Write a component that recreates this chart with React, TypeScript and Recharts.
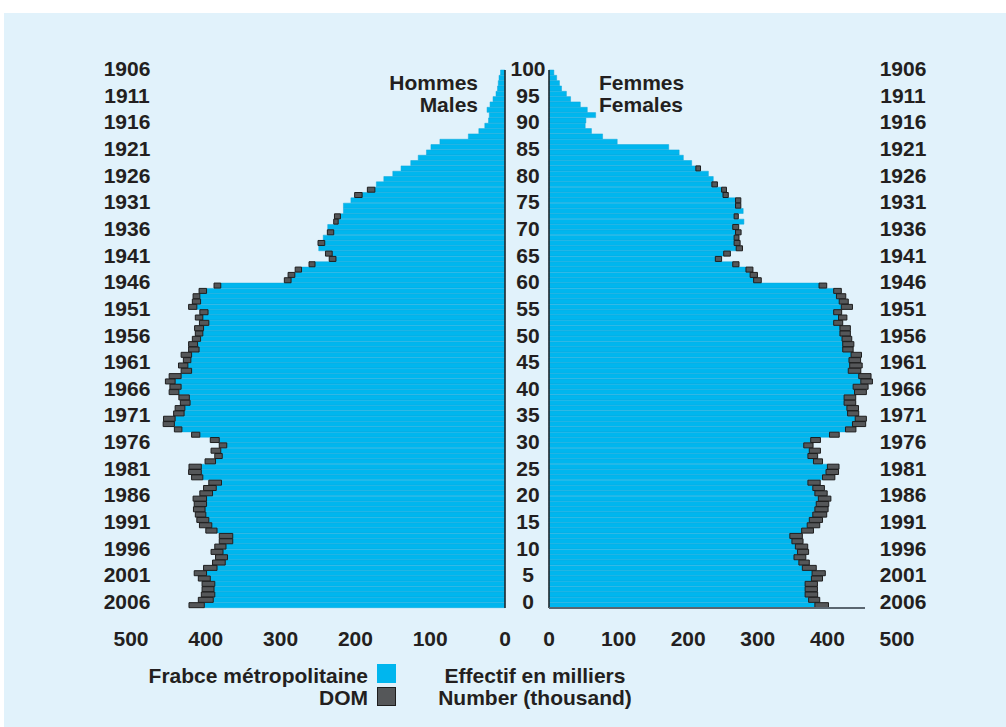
import React from "react";
import { BarChart, Bar, XAxis, YAxis } from "recharts";

// population of France on 1 Jan 2006, thousands, index = age 0..100
const ages = Array.from({ length: 101 }, (_, i) => i);

const maleMetro = [
  402, 390, 388, 389, 388, 394, 399, 385, 374, 371,
  377, 373, 364, 364, 385, 392, 396, 400, 401, 399,
  399, 391, 386, 379, 404, 406, 406, 387, 378, 380,
  372, 382, 408, 432, 442, 441, 429, 428, 421, 422,
  436, 433, 441, 433, 419, 424, 420, 419, 409, 411,
  407, 404, 403, 396, 404, 397, 412, 407, 408, 399,
  380, 286, 281, 272, 254, 226, 231, 249, 241, 243,
  229, 237, 223, 220, 216, 216, 206, 191, 174, 172,
  162, 150, 139, 126, 116, 105, 99, 87, 49, 35,
  27, 22, 21, 24, 20, 16, 12, 10, 9, 8,
  6,
];

const maleDom = [
  20.5, 20, 18, 16, 17, 16, 16.5, 18, 17, 16,
  16, 15, 18, 18, 15, 16.5, 16, 14, 15.5, 16.5,
  18, 17, 17, 17, 15, 17, 16.5, 14, 10, 13,
  10, 12, 11, 10, 15, 15.5, 14, 13, 13, 14,
  13, 15, 13, 16, 14, 12.5, 10, 14, 14, 12,
  11, 10, 12, 12.5, 10, 11, 11, 11, 9, 10,
  9, 9, 9, 8.5, 8, 9, 9, 0, 9, 0,
  8.5, 0, 6, 8, 0, 0, 0, 10, 10, 0,
  0, 0, 0, 0, 0, 0, 0, 0, 0, 0,
  0, 0, 0, 0, 0, 0, 0, 0, 0, 0,
  0,
];

const femaleMetro = [
  382, 373, 368, 368, 368, 377, 378, 364, 359, 352,
  357, 354, 349, 346, 363, 371, 374, 379, 382, 384,
  387, 382, 379, 372, 393, 398, 400, 380, 372, 374,
  366, 376, 403, 426, 436, 440, 429, 428, 424, 424,
  439, 437, 448, 445, 430, 432, 431, 434, 422, 422,
  421, 418, 418, 409, 416, 409, 420, 417, 413, 409,
  388, 294, 289, 283, 264, 239, 251, 269, 266, 266,
  268, 264, 280, 266, 279, 268, 268, 250, 248, 234,
  236, 229, 211, 205, 193, 187, 172, 98, 77, 61,
  52, 53, 67, 55, 45, 31, 25, 18, 15, 11,
  7,
];

const femaleDom = [
  19.6, 16, 18, 17.7, 17.7, 16, 19, 20, 15, 17,
  16, 17.7, 16, 18, 17, 18, 19, 20, 19, 18,
  18, 17.7, 16.7, 17.7, 17.7, 18, 16.7, 13, 14, 16,
  13.4, 14, 14, 15, 19, 16, 16, 16.7, 16.7, 16.7,
  17, 21.5, 16.7, 17.7, 18, 18, 16.7, 15, 15, 16,
  14, 15, 15, 13, 12, 11.5, 16, 13, 13.4, 11,
  11, 11, 10.5, 10, 9, 9, 9.6, 9, 8.6, 7,
  8, 8.6, 0, 6, 0, 7.6, 7.6, 7.6, 7, 8,
  0, 0, 6.7, 0, 0, 0, 0, 0, 0, 0,
  0, 0, 0, 0, 0, 0, 0, 0, 0, 0,
  0,
];

const valueTicks = [0, 100, 200, 300, 400, 500];
const labelAges = [0, 5, 10, 15, 20, 25, 30, 35, 40, 45, 50, 55, 60, 65, 70, 75, 80, 85, 90, 95, 100];
const refYear = 2006;

const rows = ages
  .slice()
  .reverse()
  .map((age) => ({
    age,
    metroM: maleMetro[age],
    domM: maleDom[age],
    metroF: femaleMetro[age],
    domF: femaleDom[age],
  }));

const W = 1006;
const H = 727;
const INK = "#231F20";
const CYAN = "#00B6EE";
const GREY = "#555759";
const FONT = '"Liberation Sans", Arial, Helvetica, sans-serif';

const txt = { fill: INK, fontSize: 21, fontWeight: 700, fontFamily: FONT } as const;

const BottomTick = ({ x, payload }: any) => (
  <text x={x} y={646} textAnchor="middle" {...txt}>
    {payload.value}
  </text>
);

const MaleAgeTick = ({ y, payload }: any) => (
  <g>
    <text x={127} y={y + 3.5} textAnchor="middle" {...txt}>
      {refYear - payload.value}
    </text>
    <text x={528} y={y + 3.5} textAnchor="middle" {...txt}>
      {payload.value}
    </text>
  </g>
);

const FemaleYearTick = ({ y, payload }: any) => (
  <text x={903} y={y + 3.5} textAnchor="middle" {...txt}>
    {refYear - payload.value}
  </text>
);

const abs = { position: "absolute", left: 0, top: 0 } as const;

export default function App() {
  return (
    <div style={{ position: "absolute", left: 0, top: 0, width: W, height: H, background: "#fff", overflow: "hidden" }}>
      <div style={{ position: "absolute", left: 4, top: 13, width: W - 4, height: H - 13, background: "#E1F2FB" }} />

      {/* Hommes / Males */}
      <BarChart
        style={abs}
        width={W}
        height={H}
        layout="vertical"
        data={rows}
        barCategoryGap={0}
        margin={{ top: 70, bottom: 89, left: 131, right: 481 }}
      >
        <XAxis
          type="number"
          domain={[0, 500]}
          reversed
          ticks={valueTicks}
          height={30}
          axisLine={false}
          tickLine={false}
          tick={<BottomTick />}
        />
        <YAxis
          type="category"
          dataKey="age"
          orientation="right"
          width={20}
          ticks={labelAges}
          interval={0}
          tickLine={false}
          axisLine={{ stroke: INK, strokeWidth: 1.5 }}
          tick={<MaleAgeTick />}
        />
        <Bar dataKey="metroM" stackId="m" fill={CYAN} stroke="#0CA6DA" strokeWidth={0.5} isAnimationActive={false} />
        <Bar dataKey="domM" stackId="m" fill={GREY} stroke="#1E1E1E" strokeWidth={1} isAnimationActive={false} />
      </BarChart>

      {/* Femmes / Females */}
      <BarChart
        style={abs}
        width={W}
        height={H}
        layout="vertical"
        data={rows}
        barCategoryGap={0}
        margin={{ top: 70, bottom: 89, left: 529, right: 109 }}
      >
        <XAxis
          type="number"
          domain={[0, 500]}
          ticks={valueTicks}
          height={30}
          axisLine={false}
          tickLine={false}
          tick={<BottomTick />}
        />
        <YAxis
          type="category"
          dataKey="age"
          orientation="left"
          width={20}
          ticks={labelAges}
          interval={0}
          tickLine={false}
          axisLine={{ stroke: INK, strokeWidth: 1.5 }}
          tick={<FemaleYearTick />}
        />
        <Bar dataKey="metroF" stackId="f" fill={CYAN} stroke="#0CA6DA" strokeWidth={0.5} isAnimationActive={false} />
        <Bar dataKey="domF" stackId="f" fill={GREY} stroke="#1E1E1E" strokeWidth={1} isAnimationActive={false} />
      </BarChart>

      <div style={{ position: "absolute", left: 549, top: 607, width: 316, height: 1.5, background: "#5a6670" }} />

      <svg style={abs} width={W} height={H}>
        <text x={478} y={89.5} textAnchor="end" {...txt}>Hommes</text>
        <text x={478} y={111.5} textAnchor="end" {...txt}>Males</text>
        <text x={599} y={89.5} textAnchor="start" {...txt}>Femmes</text>
        <text x={599} y={111.5} textAnchor="start" {...txt}>Females</text>

        <text x={368} y={683} textAnchor="end" {...txt}>Frabce métropolitaine</text>
        <rect x={377} y={664} width={19} height={19} fill={CYAN} />
        <text x={368} y={705} textAnchor="end" {...txt}>DOM</text>
        <rect x={377.5} y={687.5} width={18} height={18} fill={GREY} stroke="#1E1E1E" strokeWidth={1} />

        <text x={535} y={683} textAnchor="middle" {...txt}>Effectif en milliers</text>
        <text x={535} y={705} textAnchor="middle" {...txt}>Number (thousand)</text>
      </svg>
    </div>
  );
}
